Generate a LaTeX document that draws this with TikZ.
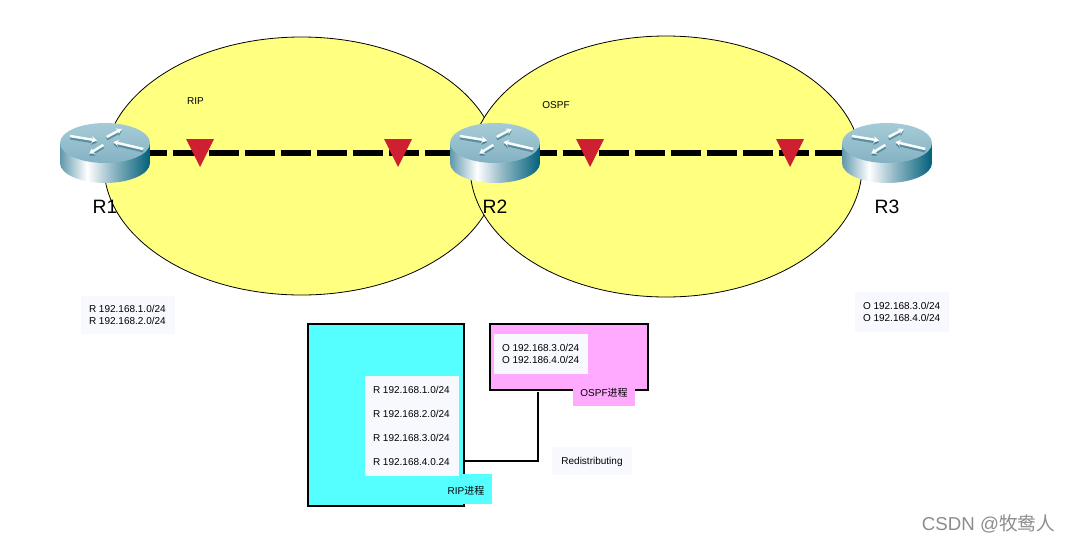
\documentclass[tikz,border=0pt]{standalone}
\usepackage{fontspec}
\usetikzlibrary{arrows.meta}
\setmainfont{Liberation Sans}
\newfontfamily\cjkfont{Noto Sans CJK SC}
\definecolor{zoneyellow}{HTML}{FFFF80}
\definecolor{panelwhite}{HTML}{F8F8FF}
\definecolor{ripcyan}{HTML}{55FFFF}
\definecolor{ospfpink}{HTML}{FFAAFF}
\definecolor{markred}{HTML}{CE2030}
\definecolor{rtop}{HTML}{A6CBD7}
\definecolor{rtoplow}{HTML}{84B2C3}
\definecolor{rdark}{HTML}{00607A}
\definecolor{rmid}{HTML}{5F98AB}
\definecolor{rshadow}{HTML}{3F7A8E}
\tikzset{
  x=0.75pt,y=-0.75pt,
  every node/.style={inner sep=0pt,outer sep=0pt},
  zone/.style={fill=zoneyellow,draw=black,line width=0.6pt},
  small/.style={font=\fontsize{7.5}{9}\selectfont,text=black},
  rlabel/.style={font=\fontsize{14.5}{16}\selectfont,text=black},
  link/.style={line width=4.5pt,dash pattern=on 22.5pt off 4.5pt,dash phase=3pt},
  heavy/.style={line width=1.5pt,draw=black},
  routerpic/.pic={
    \begin{scope}
      \clip (-45,-10) -- (-45,10) arc[start angle=180,end angle=0,x radius=45,y radius=20]
        -- (45,-10) -- cycle;
      \shade[left color=rmid,right color=white] (-45,-30) rectangle (-18,32);
      \shade[left color=white,right color=rmid!70!white] (-18.1,-30) rectangle (8,32);
      \shade[left color=rmid!70!white,right color=rdark] (7.9,-30) rectangle (45,32);
    \end{scope}
    \shade[top color=rtop,bottom color=rtoplow] (0,-10) ellipse[x radius=45,y radius=20];
    \foreach \a/\b/\c/\d in {-35/-17/-8/-12.5, 1.7/-16/16.7/-24, 38.3/-4/8.3/-11, -1.7/-8/-15.7/0.5}{
      \draw[rshadow,line width=2.2pt,opacity=.7,-{Stealth[length=4pt,width=5pt]}] (\a,\b+2) -- (\c,\d+2);
      \draw[white,line width=1.9pt,opacity=.95,-{Stealth[length=4pt,width=5pt]}] (\a,\b) -- (\c,\d);
    }
  }
}
\newcommand{\redmark}[1]{\fill[markred] (#1-14,139) -- (#1+14,139) -- (#1,167) -- cycle;}
\begin{document}
\begin{tikzpicture}
\useasboundingbox (0,0) rectangle (1070,543);
% zones
\draw[zone] (301.4,166) ellipse[x radius=197.4,y radius=129];
\draw[zone] (666,166.5) ellipse[x radius=196,y radius=130.5];
% router anchors
\node[coordinate] (r1) at (105,153) {};
\node[coordinate] (r2) at (495,153) {};
\node[coordinate] (r3) at (887,153) {};
% links
\draw[link] (r1) -- (r2);
\draw[link] (r2) -- (r3);
% routers
\pic at (r1) {routerpic};
\pic at (r2) {routerpic};
\pic at (r3) {routerpic};
% markers
\redmark{200}
\redmark{398}
\redmark{590}
\redmark{790}
% labels
\node[rlabel] (l1) at (105,207) {R1};
\node[rlabel] (l2) at (495,207) {R2};
\node[rlabel] (l3) at (887,207) {R3};
\node[small] (riplabel) at (195.5,101) {RIP};
\node[small] (ospflabel) at (556,105) {OSPF};
% routing table panels
\fill[panelwhite] (81,296) rectangle (175,334);
\node[small,anchor=west,align=left] (t1) at (89,315) {R 192.168.1.0/24\\R 192.168.2.0/24};
\fill[panelwhite] (855,292) rectangle (949,332);
\node[small,anchor=west,align=left] (t3) at (863,312) {O 192.168.3.0/24\\O 192.168.4.0/24};
% process boxes
\node[heavy,fill=ripcyan,minimum width=117pt,minimum height=136.5pt,anchor=north west] (ripbox) at (308,324) {};
\node[heavy,fill=ospfpink,minimum width=118.5pt,minimum height=49.5pt,anchor=north west] (ospfbox) at (490,324) {};
\fill[ripcyan] (445,474) rectangle (492,504);
\fill[ospfpink] (573,385) rectangle (635,406);
\fill[panelwhite] (365,376) rectangle (459,476);
\fill[panelwhite] (494,334) rectangle (588,374);
\fill[panelwhite] (552,447) rectangle (632,475);
\node[small,anchor=west] (a1) at (373,390) {R 192.168.1.0/24};
\node[small,anchor=west] (a2) at (373,414) {R 192.168.2.0/24};
\node[small,anchor=west] (a3) at (373,438) {R 192.168.3.0/24};
\node[small,anchor=west] (a4) at (373,462) {R 192.168.4.0.24};
\node[small,anchor=west,align=left] (b1) at (502,354) {O 192.168.3.0/24\\O 192.186.4.0/24};
\node[small,anchor=center] (rip) at (466,490.5) {RIP{\cjkfont 进程}};
\node[small,anchor=center] (ospf) at (604,392.5) {OSPF{\cjkfont 进程}};
\node[small,anchor=center] (red) at (592,461.5) {Redistributing};
% connector
\coordinate (bend) at (538,461);
\draw[heavy,shorten >=1.5pt] (ripbox.east |- bend) -- (bend) -- (ospfbox.south -| bend);
% watermark
\node[font=\fontsize{14}{15}\selectfont,text=black!45,anchor=east] (wm) at (1055,524) {CSDN @{\cjkfont 牧鸯人}};
\end{tikzpicture}
\end{document}
